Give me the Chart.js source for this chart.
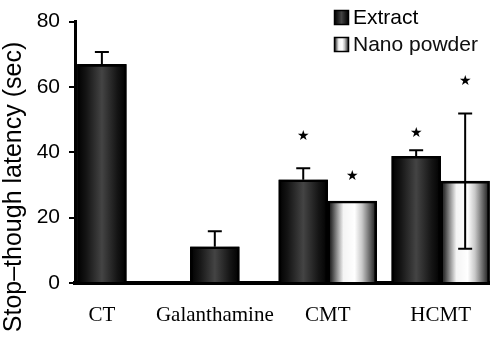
<!DOCTYPE html>
<html>
<head>
<meta charset="utf-8">
<script src="https://cdn.jsdelivr.net/npm/chart.js@4.4.0/dist/chart.umd.min.js"></script>
<style>
html, body { margin: 0; padding: 0; background: #fff; overflow: hidden; }
canvas { display: block; }
</style>
</head>
<body>
<canvas id="latencyChart" width="491" height="341"></canvas>
<script>
const categories = ['CT', 'Galanthamine', 'CMT', 'HCMT'];
const extractValues = [66.9, 11.1, 31.6, 38.8];
const extractErrors = [3.8, 4.7, 3.5, 1.8];
const nanoValues = [null, null, 25.1, 31.2];
const nanoErrors = [null, null, 0, 20.7];
// where the significance stars sit (in seconds)
const extractStars = [null, null, 44.8, 45.8];
const nanoStars = [null, null, 32.5, 61.8];
const yTicks = [0, 20, 40, 60, 80];

const extractStops = [[0, '#000'], [0.18, '#141414'], [0.5, '#444'], [0.82, '#141414'], [1, '#000']];
const nanoStops = [[0, '#111'], [0.08, '#3a3a3a'], [0.22, '#a8a8a8'], [0.32, '#f4f4f4'], [0.55, '#fff'], [0.7, '#c8c8c8'], [0.88, '#5a5a5a'], [1, '#111']];

Chart.defaults.font.family = "'Liberation Sans', Arial, sans-serif";
Chart.defaults.color = '#000';

const toPoints = arr => arr.map((v, i) => ({ x: i, y: v }));

function fillGrad(ctx, x, y, w, h, stops) {
    const g = ctx.createLinearGradient(x, 0, x + w, 0);
    stops.forEach(s => g.addColorStop(s[0], s[1]));
    ctx.fillStyle = g;
    ctx.fillRect(x, y, w, h);
}

const decor = {
    id: 'decor',
    beforeDatasetsDraw(chart) {
        const ctx = chart.ctx;
        const area = chart.chartArea;
        ctx.save();
        ctx.beginPath();
        ctx.rect(area.left, area.top, area.right - area.left, area.bottom - area.top);
        ctx.clip();
        [extractStops, nanoStops].forEach((stops, di) => {
            chart.getDatasetMeta(di).data.forEach(el => {
                if (el.y == null || isNaN(el.y)) return;
                fillGrad(ctx, el.x - el.width / 2, el.y, el.width, el.base - el.y, stops);
            });
        });
        ctx.restore();
    },
    afterDatasetsDraw(chart) {
        const ctx = chart.ctx;
        const yS = chart.scales.y;
        ctx.save();
        ctx.strokeStyle = '#000';
        ctx.fillStyle = '#000';
        ctx.lineWidth = 2;
        ctx.textAlign = 'center';
        ctx.textBaseline = 'middle';
        ctx.font = "14px 'DejaVu Sans'";
        [[extractValues, extractErrors, extractStars], [nanoValues, nanoErrors, nanoStars]].forEach((set, di) => {
            const meta = chart.getDatasetMeta(di);
            set[0].forEach((v, i) => {
                if (v == null) return;
                const x = meta.data[i].x;
                if (set[1][i]) {
                    const top = yS.getPixelForValue(v + set[1][i]);
                    // lower half only shows on the light nano bars
                    const bot = di === 1 ? yS.getPixelForValue(v - set[1][i]) : yS.getPixelForValue(v);
                    ctx.beginPath();
                    ctx.moveTo(x, top); ctx.lineTo(x, bot);
                    ctx.moveTo(x - 7, top); ctx.lineTo(x + 7, top);
                    if (di === 1) { ctx.moveTo(x - 7, bot); ctx.lineTo(x + 7, bot); }
                    ctx.stroke();
                }
                if (set[2][i] != null) ctx.fillText('★', x, yS.getPixelForValue(set[2][i]));
            });
        });

        // y title
        ctx.save();
        ctx.translate(14, 187);
        ctx.rotate(-Math.PI / 2);
        ctx.font = "25px 'Liberation Sans'";
        ctx.fillText('Stop–though latency (sec)', 0, 0);
        ctx.restore();

        // legend
        ctx.font = "21px 'Liberation Sans'";
        ctx.textAlign = 'left';
        fillGrad(ctx, 334, 10, 15, 15, extractStops);
        ctx.lineWidth = 1.5;
        ctx.strokeRect(334.5, 10.5, 14, 14);
        ctx.fillText('Extract', 353, 18);
        fillGrad(ctx, 334, 37, 15, 15, nanoStops);
        ctx.strokeRect(334.5, 37.5, 14, 14);
        ctx.fillText('Nano powder', 353, 45);
        ctx.restore();
    }
};

const config = {
    type: 'bar',
    data: {
        datasets: [
            { label: 'Extract', data: toPoints(extractValues), backgroundColor: 'rgba(0,0,0,0)', borderColor: '#000', borderWidth: 2 },
            { label: 'Nano powder', data: toPoints(nanoValues), backgroundColor: 'rgba(0,0,0,0)', borderColor: '#000', borderWidth: 2 }
        ]
    },
    options: {
        responsive: false,
        animation: false,
        devicePixelRatio: 1,
        skipNull: true,
        barThickness: 49,
        layout: { padding: { top: 15, left: 0, right: 0, bottom: 0 } },
        plugins: { legend: { display: false }, tooltip: { enabled: false } },
        scales: {
            x: {
                type: 'linear',
                offset: false,
                min: -0.238,
                max: 3.435,
                afterBuildTicks: s => { s.ticks = categories.map((c, i) => ({ value: i })); },
                afterFit: s => { s.height = 58; },
                ticks: {
                    callback: v => categories[v],
                    padding: 20,
                    autoSkip: false,
                    maxRotation: 0,
                    font: { family: "'Liberation Serif', 'Times New Roman', serif", size: 21 }
                },
                grid: { display: false, drawTicks: false },
                border: { display: true, color: '#000', width: 4 }
            },
            y: {
                min: 0,
                max: 80,
                afterBuildTicks: s => { s.ticks = yTicks.map(v => ({ value: v })); },
                afterFit: s => { s.width = 75; },
                ticks: { padding: 9, font: { size: 21 } },
                grid: { drawOnChartArea: false, drawTicks: true, tickLength: 6, color: '#000', lineWidth: 2 },
                border: { color: '#000', width: 3 }
            }
        }
    },
    plugins: [decor]
};

const latencyChart = new Chart(document.getElementById('latencyChart'), config);
</script>
</body>
</html>
